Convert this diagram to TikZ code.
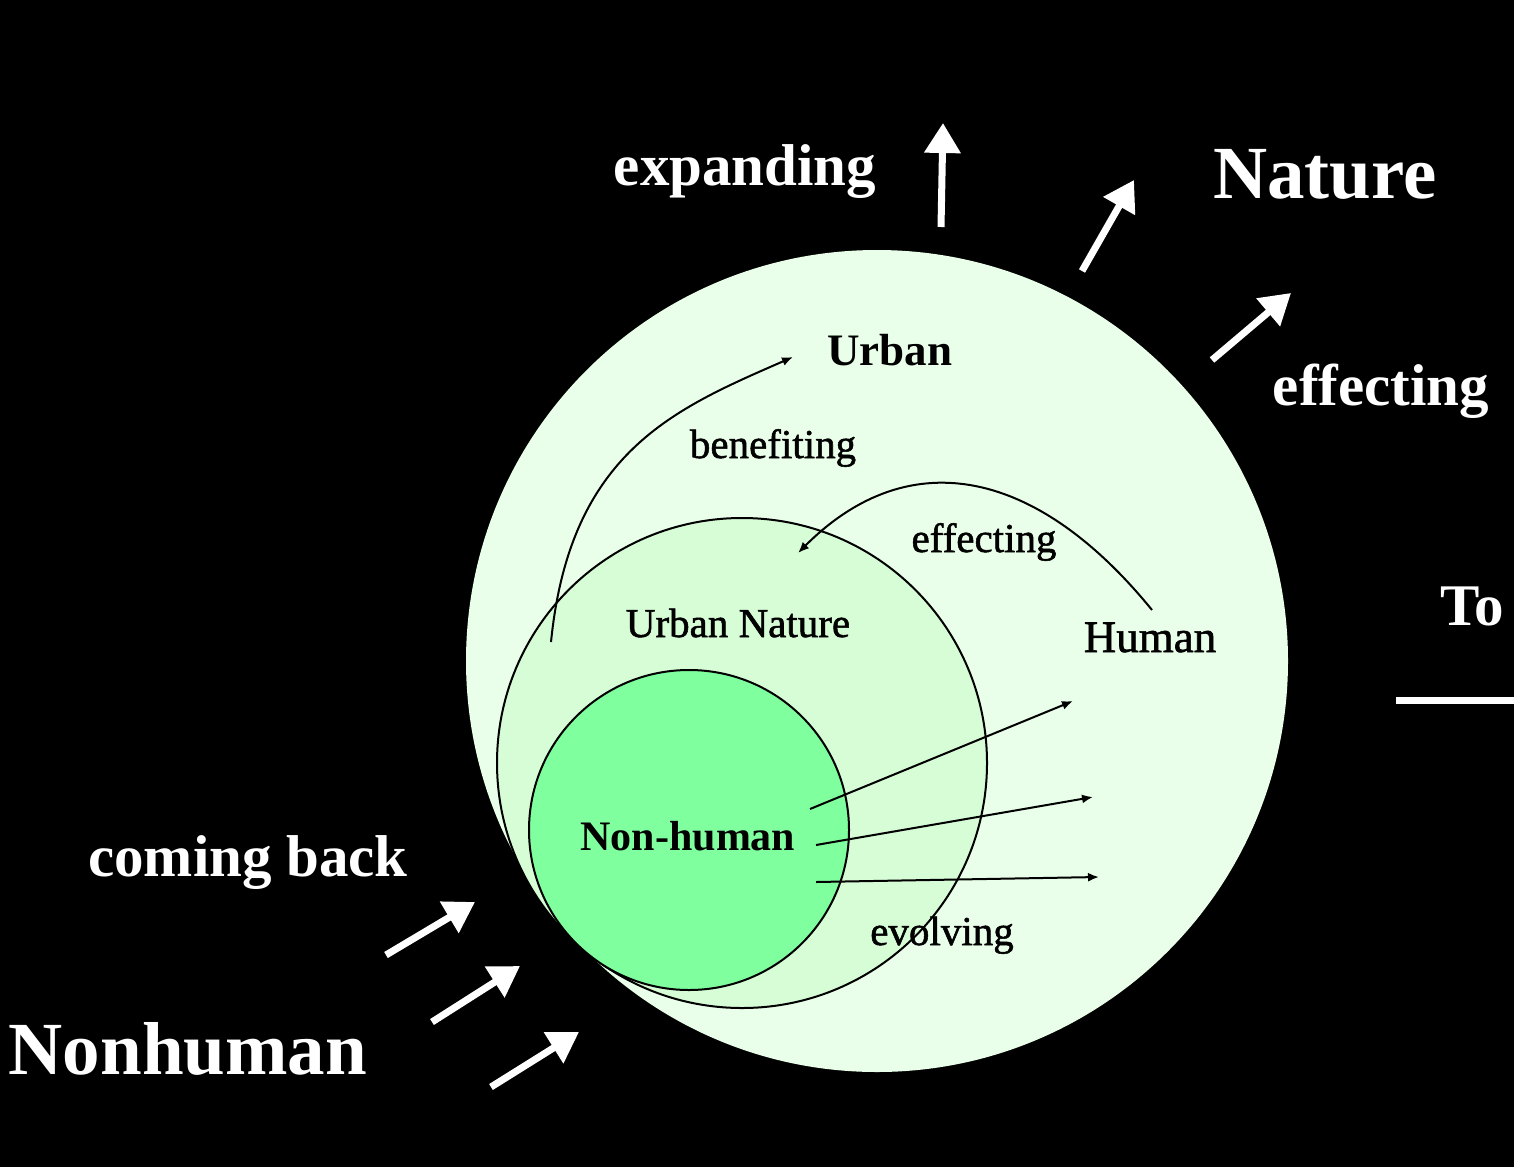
\documentclass[tikz,border=0pt]{standalone}
\usepackage{fontspec}
\setmainfont{Liberation Serif}
\newfontfamily\halfbold{Liberation Serif}[FakeBold=1.3]
\usepackage{tikz}
\usetikzlibrary{arrows.meta}
\definecolor{NatureGreen}{HTML}{EAFFEA}
\definecolor{UrbanGreen}{HTML}{D7FDD6}
\definecolor{MintGreen}{HTML}{80FF9F}

\begin{document}
\begin{tikzpicture}[x=0.5pt,y=-0.5pt,
  outword/.style={text=white,inner sep=0,anchor=base,font=\bfseries\fontsize{29.5}{32}\selectfont},
  bigword/.style={outword,font=\bfseries\fontsize{37.5}{40}\selectfont},
  inword/.style={inner sep=0,anchor=base,font=\halfbold\fontsize{20.5}{23}\selectfont},
  boldword/.style={inword,font=\bfseries\fontsize{22.5}{25}\selectfont},
  push/.style={white,line width=3.5pt,-{Triangle[length=15pt,width=17.5pt]}},
  flow/.style={line width=1pt,-{Latex[length=5.5pt,width=4.5pt]}}]
  \useasboundingbox (0,0) rectangle (1514,1167);
  \fill[black] (0,0) rectangle (1514,1167);
  % the three rings
  \node[circle,fill=NatureGreen,minimum size=411pt,inner sep=0] (nature) at (877,661) {};
  \node[circle,draw,line width=1pt,fill=UrbanGreen,minimum size=245pt,inner sep=0] (urbannature) at (742,763) {};
  \node[circle,draw,line width=1pt,fill=MintGreen,minimum size=160pt,inner sep=0] (nonhumanzone) at (689,830) {};
  % outside words
  \node[outword] (expanding) at (745,185) {expanding};
  \node[bigword] (naturetitle) at (1325,198) {Nature};
  \node[outword] (effectingout) at (1381,405) {effecting};
  \node[outword,anchor=base west] (towords) at (1440,625) {To};
  \node[outword] (comingback) at (248,876) {coming back};
  \node[bigword] (nonhumantitle) at (188,1074) {Nonhuman};
  % inside words
  \node[boldword] (urban) at (890,365) {Urban};
  \node[inword] (benefiting) at (773,458) {benefiting};
  \node[inword] (effectingin) at (984,552) {effecting};
  \node[inword] (urbannaturetext) at (738,637) {Urban Nature};
  \node[inword,font=\halfbold\fontsize{22.5}{25}\selectfont] (human) at (1150,652) {Human};
  \node[boldword,font=\bfseries\fontsize{21}{24}\selectfont] (nonhuman) at (688,850) {Non-human};
  \node[inword] (evolving) at (942,945) {evolving};
  % white arrows
  \foreach \i/\ax/\ay/\bx/\by in {1/941/227/943/123,2/1082/271/1134/180,3/1212/360/1291/293,
      4/386/955/475/902,5/432/1022/520/966,6/491/1087/579/1032}{
    \coordinate (pusha\i) at (\ax,\ay);
    \coordinate (pushb\i) at (\bx,\by);
    \draw[push] (pusha\i) -- (pushb\i);
  }
  \coordinate (lineA) at (1396,700);
  \coordinate (lineB) at (1514,700);
  \draw[white,line width=3.5pt] (lineA) -- (lineB);
  % black arrows
  \coordinate (benefitA) at (551,642);
  \coordinate (benefitB) at (793,357);
  \draw[flow] (benefitA) .. controls (570,452) and (674,409) .. (benefitB);
  \coordinate (effectA) at (1152,610);
  \coordinate (effectB) at (798,553);
  \draw[flow] (effectA) .. controls (1039,471) and (911,440) .. (effectB);
  \foreach \i/\sx/\sy/\ex/\ey in {1/810/809/1073/701,2/816/845/1093/797,3/816/882/1099/877}{
    \coordinate (evolveA\i) at (\sx,\sy);
    \coordinate (evolveB\i) at (\ex,\ey);
    \draw[flow] (evolveA\i) -- (evolveB\i);
  }
\end{tikzpicture}
\end{document}
